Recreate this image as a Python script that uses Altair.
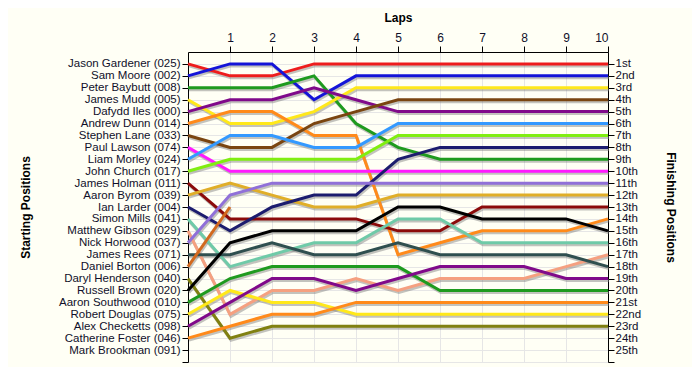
import altair as alt
import pandas as pd

drivers = [
    "Jason Gardener (025)", "Sam Moore (002)", "Peter Baybutt (008)", "James Mudd (005)",
    "Dafydd Iles (000)", "Andrew Dunn (014)", "Stephen Lane (033)", "Paul Lawson (074)",
    "Liam Morley (024)", "John Church (017)", "James Holman (011)", "Aaron Byrom (039)",
    "Ian Larder (004)", "Simon Mills (041)", "Matthew Gibson (029)", "Nick Horwood (037)",
    "James Rees (071)", "Daniel Borton (006)", "Daryl Henderson (040)", "Russell Brown (020)",
    "Aaron Southwood (010)", "Robert Douglas (075)", "Alex Checketts (098)",
    "Catherine Foster (046)", "Mark Brookman (091)",
]

colors = [
    "#ee1c1c", "#1414d8", "#1e9a1e", "#ffe81a", "#800a8a", "#ff8a1a", "#7a4510", "#ff1aff",
    "#3399ff", "#80ee10", "#8b0a0a", "#e0ae28", "#1c1c6e", "#6fcaa8", "#f5a080", "#9070d8",
    "#2f4f4f", "#d2691e", "#808010", "#000000", "#1e9a1e", "#ffe81a", "#800a8a", "#ff8a1a",
    "#999999",
]

# positions at laps 0..10 (None = not running)
positions = [
    [1, 2, 2, 1, 1, 1, 1, 1, 1, 1, 1],
    [2, 1, 1, 4, 2, 2, 2, 2, 2, 2, 2],
    [3, 3, 3, 2, 6, 8, 9, 9, 9, 9, 9],
    [4, 6, 6, 5, 3, 3, 3, 3, 3, 3, 3],
    [5, 4, 4, 3, 4, 5, 5, 5, 5, 5, 5],
    [6, 5, 5, 7, 7, 17, 16, 15, 15, 15, 14],
    [7, 8, 8, 6, 5, 4, 4, 4, 4, 4, 4],
    [8, 10, 10, 10, 10, 10, 10, 10, 10, 10, 10],
    [9, 7, 7, 8, 8, 6, 6, 6, 6, 6, 6],
    [10, 9, 9, 9, 9, 7, 7, 7, 7, 7, 7],
    [11, 14, 14, 14, 14, 15, 15, 13, 13, 13, 13],
    [12, 11, 12, 13, 13, 12, 12, 12, 12, 12, 12],
    [13, 15, 13, 12, 12, 9, 8, 8, 8, 8, 8],
    [14, 18, 17, 16, 16, 14, 14, 16, 16, 16, 16],
    [15, 22, 20, 20, 19, 20, 19, 19, 19, 18, 17],
    [16, 12, 11, 11, 11, 11, 11, 11, 11, 11, 11],
    [17, 17, 16, 17, 17, 16, 17, 17, 17, 17, 18],
    [18, 13, None, None, None, None, None, None, None, None, None],
    [19, 24, 23, 23, 23, 23, 23, 23, 23, 23, 23],
    [20, 16, 15, 15, 15, 13, 13, 14, 14, 14, 15],
    [21, 19, 18, 18, 18, 18, 20, 20, 20, 20, 20],
    [22, 20, 21, 21, 22, 22, 22, 22, 22, 22, 22],
    [23, 21, 19, 19, 20, 19, 18, 18, 18, 19, 19],
    [24, 23, 22, 22, 21, 21, 21, 21, 21, 21, 21],
    [None] * 11,
]

laps = list(range(11))
finish_labels = ["1st", "2nd", "3rd"] + [f"{i}th" for i in range(4, 21)] + ["21st", "22nd", "23rd", "24th", "25th"]

rows = []
for d, (name, pos) in enumerate(zip(drivers, positions)):
    for lap, p in zip(laps, pos):
        if p is not None:
            rows.append({"driver": name, "order": d, "lap": lap, "pos": p})
df = pd.DataFrame(rows)

font = "Liberation Sans"
txt = "#10102a"

name_arr = "[''," + ",".join("'" + n + "'" for n in drivers) + ",'']"
fin_arr = "[''," + ",".join("'" + n + "'" for n in finish_labels) + ",'']"

xscale = alt.Scale(domain=[0, 10], nice=False, zero=False)
yscale = alt.Scale(domain=[0, 26], reverse=True, nice=False, zero=False)

xaxis = alt.Axis(
    orient="top", values=list(range(1, 11)), title="Laps", grid=True, gridColor="#e6e6e6",
    tickColor="#000", domainColor="#000", tickSize=6, labelPadding=2, labelFontSize=12,
    labelColor=txt, labelFont=font, titleFont=font, titleFontSize=12, titleFontWeight="bold",
    titleColor="#000", titleX=210, titleY=-28, labelAngle=0,
)

left_axis = alt.Axis(
    orient="left", values=list(range(1, 27)), labelExpr=name_arr + "[datum.value]",
    title="Starting Positions", grid=True, gridColor="#e6e6e6", tickColor="#000",
    domainColor="#000", tickSize=6, labelPadding=2, labelFontSize=11.5, labelColor=txt,
    labelFont=font, titleFont=font, titleFontSize=12, titleFontWeight="bold", titleColor="#000",
    titleAngle=270, titleX=-156, titleY=155, labelOverlap=False,
)

right_axis = alt.Axis(
    orient="right", values=list(range(1, 27)), labelExpr=fin_arr + "[datum.value]",
    title="Finishing Positions", grid=False, tickColor="#000", domainColor="#000",
    tickSize=6, labelPadding=1, labelFontSize=11.5, labelColor=txt, labelFont=font,
    titleFont=font, titleFontSize=12, titleFontWeight="bold", titleColor="#000",
    titleAngle=90, titleX=55, titleY=155, labelOverlap=False,
)

shadow = alt.Chart(df).mark_line(strokeWidth=3, color="#7a7a7a", opacity=0.45, xOffset=1, yOffset=2).encode(
    x=alt.X("lap:Q", scale=xscale, axis=xaxis),
    y=alt.Y("pos:Q", scale=yscale, axis=left_axis),
    detail="driver:N",
)

lines = alt.Chart(df).mark_line(strokeWidth=3).encode(
    x=alt.X("lap:Q", scale=xscale, axis=xaxis),
    y=alt.Y("pos:Q", scale=yscale, axis=right_axis),
    color=alt.Color("driver:N", scale=alt.Scale(domain=drivers, range=colors), legend=None),
    order="order:Q",
)

chart = alt.layer(shadow, lines).resolve_scale(y="independent").properties(
    width=420, height=310,
    autosize=alt.AutoSizeParams(type="none"),
    padding={"left": 180, "top": 44, "right": 84, "bottom": 5},
    background="#fffff5",
).configure_view(strokeWidth=0)

chart.save("out.html", embed_options={"renderer": "svg", "actions": False})
